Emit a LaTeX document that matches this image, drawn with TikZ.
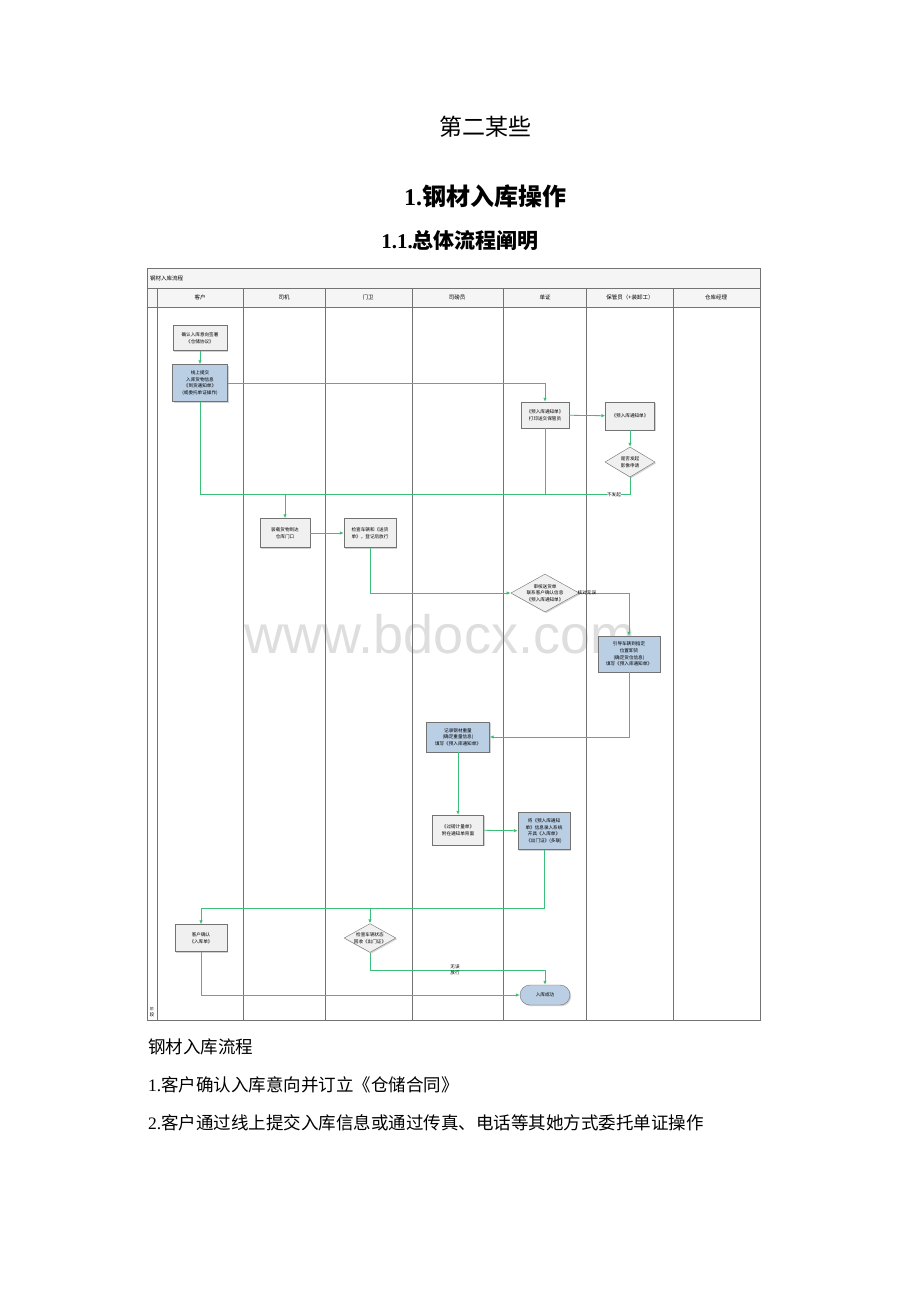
\documentclass[tikz,border=0pt]{standalone}
\usepackage{fontspec}
\setmainfont{Liberation Serif}
\setsansfont{Liberation Sans}
\newfontfamily\cjk{Noto Sans CJK SC}
\usetikzlibrary{shapes.geometric,arrows.meta,shadows}
\definecolor{flowgreen}{HTML}{3CBF78}
\definecolor{boxblue}{HTML}{BACEE4}
\definecolor{boxgray}{HTML}{F0F0F0}
\newcommand{\boxfont}{\cjk\fontsize{4.6}{6.6}\selectfont}
\begin{document}
\begin{tikzpicture}[x=1pt, y=-1pt, >={Latex[length=4pt,width=3.5pt]},
    flow/.style={draw=flowgreen, line width=.8pt},
    lane/.style={draw=black!55, line width=.5pt},
    graybox/.style={draw=black!55, fill=boxgray, align=center, inner sep=1pt,
        font=\boxfont, drop shadow={shadow xshift=1.2pt, shadow yshift=-1.2pt, fill=black!35}},
    bluebox/.style={graybox, fill=boxblue},
    decision/.style={diamond, draw=black!55, fill=boxgray, aspect=1.8, inner sep=0pt, align=center,
        font=\boxfont, drop shadow={shadow xshift=1.2pt, shadow yshift=-1.2pt, fill=black!35}},
    lbl/.style={font=\boxfont, inner sep=.5pt, align=center}]
\fill[white] (0,0) rectangle (920,1302);

% page text
\node (title) at (485,127) {\cjk\fontsize{23}{26}\selectfont 第二某些};
\node (sec) at (485,196) {\bfseries\fontsize{24}{28}\selectfont 1.\cjk 钢材入库操作};
\node (subsec) at (460,241) {\bfseries\fontsize{21}{24}\selectfont 1.1.\cjk 总体流程阐明};
\node[anchor=west, inner sep=0pt] (cap) at (148,1047) {\cjk\fontsize{17.5}{20}\selectfont 钢材入库流程};
\node[anchor=west, inner sep=0pt] (step1) at (148,1085) {\fontsize{17.5}{20}\selectfont 1.\cjk 客户确认入库意向并订立《仓储合同》};
\node[anchor=west, inner sep=0pt] (step2) at (148,1123) {\fontsize{17.5}{20}\selectfont 2.\cjk 客户通过线上提交入库信息或通过传真、电话等其她方式委托单证操作};

% watermark
\node[text=black!13] (wm) at (440,634) {\sffamily\fontsize{54}{60}\selectfont www.bdocx.com};

% frame and lanes
\begin{scope}
    \filldraw[lane, fill=black!4] (147,268) rectangle (760,288);
    \filldraw[lane, fill=black!4] (147,288) rectangle (760,307);
    \draw[lane] (147,268) rectangle (760,1020);
    \node[anchor=west, inner sep=1pt] (hd) at (149,278) {\cjk\fontsize{5.5}{7}\selectfont 钢材入库流程};
\foreach \x in {157,243,325,412,503,586,673}
{
    \draw[lane] (\x,288)--(\x,1020);
}
\foreach \x/\n in {200/客户,284/司机,368/门卫,457/司磅员,545/单证,630/保管员（+装卸工）,716/仓库经理}
{
    \node (h\x) at (\x,297.5) {\cjk\fontsize{5.5}{7}\selectfont \n};
}
    \node[lbl] (stage) at (152,1012) {\cjk\fontsize{3.8}{4.2}\selectfont 阶\\段};
\end{scope}

% steps
\node[graybox, minimum width=54, minimum height=25] (confirm) at (200,338) {确认入库意向签署\\《仓储协议》};
\node[bluebox, minimum width=55, minimum height=37] (online) at (200,383) {线上提交\\入库货物信息\\《到货通知单》\\(或委托单证操作)};
\node[graybox, minimum width=48, minimum height=26] (print) at (545,415) {《预入库通知单》\\打印送交保管员};
\node[graybox, minimum width=49, minimum height=28] (notice) at (630,416) {《预入库通知单》};
\node[decision, minimum width=50, minimum height=30] (imgq) at (630,462) {是否发起\\影像申请};
\node[graybox, minimum width=50, minimum height=29] (unload) at (285,533) {装载货物到达\\仓库门口};
\node[graybox, minimum width=52, minimum height=29] (gate) at (370,533) {检查车辆和《送货\\单》，登记后放行};
\node[decision, minimum width=62, minimum height=34] (verify) at (545,593) {审核送货单\\联系客户确认信息\\《预入库通知单》};
\node[bluebox, minimum width=62, minimum height=36] (guide) at (629,654) {引导车辆到指定\\位置卸货\\(确定货位信息)\\填写《预入库通知单》};
\node[bluebox, minimum width=63, minimum height=30] (weigh) at (458,737) {记录钢材重量\\(确定重量信息)\\填写《预入库通知单》};
\node[graybox, minimum width=51, minimum height=30] (scale) at (458,830) {《过磅计量单》\\附在通知单背面};
\node[bluebox, minimum width=52, minimum height=37] (enter) at (544,831) {将《预入库通知\\单》信息录入系统\\开具《入库单》\\《出门证》(多联)};
\node[graybox, minimum width=52, minimum height=27] (custok) at (201,938) {客户确认\\《入库单》};
\node[decision, minimum width=48, minimum height=28] (check) at (370,938) {检查车辆状态\\回收《出门证》};
\node[graybox, fill=boxblue, rounded corners=10pt, minimum width=50, minimum height=20] (done) at (545,995) {入库成功};

% connectors
\coordinate (j1) at (285,494);
\coordinate (j2) at (370,908);
\coordinate (j3) at (545,970);
\draw[flow,->] (confirm) -- (online);
\draw[flow,->] (online.east) -| (print.north);
\draw[flow,->] (print) -- (notice);
\draw[flow,->] (notice) -- (imgq);
\draw[flow,->] (imgq.south) |- (j1) -- (unload.north);
\draw[flow] (online.south) |- (j1);
\draw[flow] (print.south) -- (print.south |- j1);
\node[lbl, fill=white] (nofa) at (614,495) {不发起};
\draw[flow,->] (unload) -- (gate);
\draw[flow,->] (gate.south) |- (verify.west);
\draw[flow,->] (verify.east) -| (guide.north);
\node[lbl, anchor=west] (okv) at (577,593) {核对无误};
\draw[flow,->] (guide.south) |- (weigh.east);
\draw[flow,->] (weigh) -- (scale);
\draw[flow,->] (scale) -- (enter);
\draw[flow,->] (enter.south) |- (custok.north |- j2) -- (custok.north);
\draw[flow,->] (j2) -- (check.north);
\draw[flow,->] (check.south) |- (j3) -- (done.north);
\node[lbl] (pass) at (455,970) {无误\\放行};
\draw[flow,->] (custok.south) |- (done.west);
\end{tikzpicture}
\end{document}
